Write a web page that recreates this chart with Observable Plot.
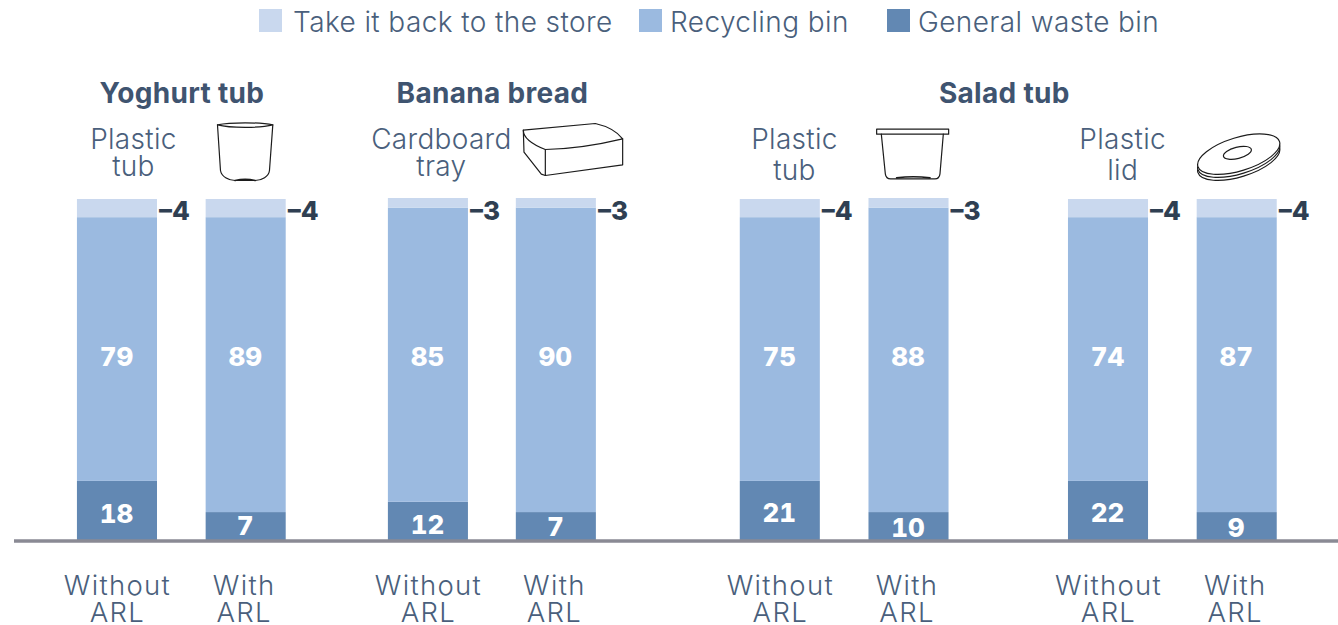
<!DOCTYPE html>
<html>
<head>
<meta charset="utf-8">
<script src="https://cdn.jsdelivr.net/npm/d3@7"></script>
<script src="https://cdn.jsdelivr.net/npm/@observablehq/plot@0.6"></script>
<style>
html,body{margin:0;padding:0;background:#fff;overflow:hidden}
body{width:1338px;height:625px;font-family:Inter,"Noto Sans",sans-serif}
#legend{position:relative;height:44px;color:#4a5f7c;font-size:28px;font-weight:300;letter-spacing:.4px}
#legend .item{position:absolute;top:0;height:44px}
#legend i{position:absolute;top:9px;left:0;width:23px;height:23px}
#legend span{position:absolute;top:6px;white-space:nowrap;line-height:32px}
svg{display:block}
svg g[font-size="28"]{letter-spacing:.3px}
svg g[font-size="27.5"]{letter-spacing:1.3px}
</style>
</head>
<body>
<div id="legend"></div>
<div id="chart"></div>
<script>
// Chart values, as printed on the labels
const legendLabels = ["Take it back to the store", "Recycling bin", "General waste bin"];
const conditions = ["Without\nARL", "With\nARL", "Without\nARL", "With\nARL", "Without\nARL", "With\nARL", "Without\nARL", "With\nARL"];
const storeValues = [4, 4, 3, 3, 4, 3, 4, 4];
const recyclingValues = [79, 89, 85, 90, 75, 88, 74, 87];
const wasteValues = [18, 7, 12, 7, 21, 10, 22, 9];

// Segment tops as drawn in the picture (the source artwork is not proportional to its labels)
const drawnWasteTop = [17.4, 8.3, 11.3, 8.3, 17.4, 8.3, 17.4, 8.3];
const drawnRecyclingTop = [94.4, 94.4, 97.2, 97.2, 94.4, 97.2, 94.4, 94.4];
const drawnStoreTop = [99.7, 99.7, 100, 100, 99.7, 100, 99.7, 99.7];
const wasteLabelHeight = [8.0, 4.5, 4.8, 4.2, 8.3, 3.9, 8.3, 3.9];

// Bar slots along the linear x scale
const slots = [0, 1, 2.416, 3.41, 5.15, 6.15, 7.70, 8.70];
const halfBar = 0.311;

const products = ["Yoghurt tub", "Banana bread", "Salad tub"];
const productSlots = [0.5, 2.913, 6.89];
const materials = ["Plastic\ntub", "Cardboard\ntray", "Plastic\ntub", "Plastic\nlid"];
const materialSlots = [0.124, 2.517, 5.26, 7.81];
const secondLineDy = [-31, -31, -27, -27];

const colors = {store: "#c9d8ee", recycling: "#9bbae0", waste: "#6288b3"};
const ink = "#4a5f7c", titleInk = "#3f5470", darkInk = "#2f3f52";

const svgURI = body => "data:image/svg+xml;utf8," + encodeURIComponent(body);
const icon = (w, h, inner) => svgURI(`<svg xmlns="http://www.w3.org/2000/svg" viewBox="0 0 ${w} ${h}" width="${w}" height="${h}"><g fill="none" stroke="#1c1c1c" stroke-width="3.6" stroke-linejoin="round" stroke-linecap="round">${inner}</g></svg>`);
const icons = [
  {slot: 0.992, w: 70, h: 70, dy: -48, src: icon(210, 210,
    `<path d="M22 28C60 20 150 20 188 28C150 38 60 38 22 28Z"/><path d="M22 28L31 165C34 183 55 195 75 195L135 195C155 195 176 183 178 165L188 28"/><path d="M75 195C95 190 115 190 135 195" stroke-width="5"/>`)},
  {slot: 3.538, w: 115, h: 70, dy: -48, src: icon(345, 210,
    `<path d="M24 44L240 24C275 32 305 48 322 70C260 85 180 100 90 102C60 90 24 70 24 44Z"/><path d="M322 70L322 148L90 180L90 102"/><path d="M24 44L26 110L78 176L90 180"/>`)},
  {slot: 6.177, w: 85, h: 65, dy: -45.5, src: icon(255, 195,
    `<path d="M20 26H236V41H20Z"/><path d="M34 41L46 160Q48 175 62 175L195 175Q208 175 210 160L220 41"/><path d="M80 172C110 168 150 168 180 172" stroke-width="5"/>`)},
  {slot: 8.73, w: 100, h: 65, dy: -40.5, src: icon(300, 195,
    `<g fill="#fff"><ellipse cx="143" cy="104" rx="128" ry="50" transform="rotate(-17 143 104)"/><ellipse cx="143" cy="95" rx="128" ry="50" transform="rotate(-17 143 95)"/><ellipse cx="143" cy="86" rx="128" ry="50" transform="rotate(-17 143 86)"/><ellipse cx="139" cy="82" rx="43" ry="17" transform="rotate(-14 139 82)"/></g>`)}
];

// Tidy rows built from the arrays above
const rows = slots.map((slot, i) => ({
  slot,
  condition: conditions[i],
  store: storeValues[i], recycling: recyclingValues[i], waste: wasteValues[i],
  y0: 0, y1: drawnWasteTop[i], y2: drawnRecyclingTop[i], y3: drawnStoreTop[i],
  wasteY: wasteLabelHeight[i]
}));
const x1 = d => d.slot - halfBar, x2 = d => d.slot + halfBar;
const matRows = materials.map((m, i) => ({first: m.split("\n")[0], second: m.split("\n")[1], slot: materialSlots[i], dy2: secondLineDy[i]}));
const prodRows = products.map((p, i) => ({p, slot: productSlots[i]}));

const legend = document.getElementById("legend");
const swatchX = [259, 639, 887];
const legendColors = [colors.store, colors.recycling, colors.waste];
legendLabels.forEach((t, i) => {
  const it = document.createElement("div");
  it.className = "item";
  it.style.left = swatchX[i] + "px";
  it.innerHTML = `<i style="background:${legendColors[i]}"></i><span style="left:${i === 0 ? 34 : 31}px">${t}</span>`;
  legend.appendChild(it);
});

const font = "Inter, 'Noto Sans', sans-serif";
const lightText = {fill: ink, fontSize: 28, fontWeight: 300};
const conditionText = {x: "slot", y: 0, dy: 35, text: "condition", lineAnchor: "top", lineHeight: 0.98, fill: ink, fontSize: 27.5, fontWeight: 300};
const chart = Plot.plot({
  width: 1338,
  height: 581,
  marginLeft: 14, marginRight: 0,
  marginTop: 154, marginBottom: 84.5,
  style: {fontFamily: font, background: "transparent"},
  x: {type: "linear", domain: [-0.8, 9.487], axis: null},
  y: {type: "linear", domain: [0, 100], axis: null},
  marks: [
    Plot.rectY(rows, {x1, x2, y1: "y0", y2: "y1", fill: colors.waste}),
    Plot.rectY(rows, {x1, x2, y1: "y1", y2: "y2", fill: colors.recycling}),
    Plot.rectY(rows, {x1, x2, y1: "y2", y2: "y3", fill: colors.store}),
    Plot.ruleY([0], {stroke: "#8a8a94", strokeWidth: 3.5}),
    // White value labels
    Plot.text(rows, {x: "slot", y: 50, dy: -12, dx: -1, text: "recycling", fill: "#fff", fontSize: 26, fontWeight: 800}),
    Plot.text(rows, {x: "slot", y: "wasteY", dy: 1, dx: -1, text: "waste", fill: "#fff", fontSize: 26, fontWeight: 800}),
    // Dark labels beside each bar
    Plot.text(rows, {x: x2, y: 100, dy: 13, dx: 1.5, text: d => "–" + d.store, textAnchor: "start", fill: darkInk, fontSize: 26, fontWeight: 800}),
    // Condition labels
    Plot.text(rows.filter((d, i) => i % 2 === 0), {...conditionText, dx: 0}),
    Plot.text(rows.filter((d, i) => i % 2 === 1), {...conditionText, dx: -2}),
    // Product titles
    Plot.text(prodRows, {x: "slot", y: 100, dy: -104.5, text: "p", fill: titleInk, fontSize: 28, fontWeight: 700}),
    // Material labels
    Plot.text(matRows, {x: "slot", y: 100, dy: -58.5, text: "first", ...lightText}),
    ...matRows.map(d => Plot.text([d], {x: "slot", y: 100, dy: d.dy2, text: "second", ...lightText})),
    // Pack icons
    ...icons.map(k => Plot.image([k], {x: "slot", y: 100, dy: k.dy, src: "src", width: k.w, height: k.h}))
  ]
});
document.getElementById("chart").appendChild(chart);
</script>
</body>
</html>
